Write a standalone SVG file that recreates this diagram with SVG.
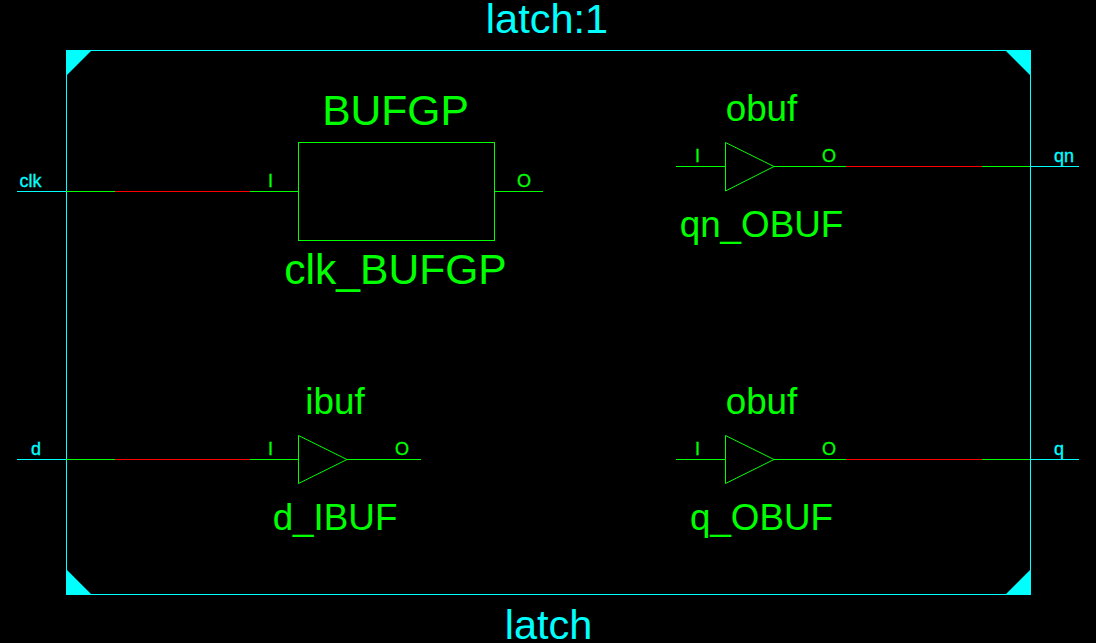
<svg xmlns="http://www.w3.org/2000/svg" width="1096" height="643" viewBox="0 0 1096 643">
<style>
text{font-family:"Liberation Sans",Arial,sans-serif}
.big{font-size:42.6px;fill:#0f0;text-anchor:middle}
.mid{font-size:36.8px;fill:#0f0;text-anchor:middle}
.title{font-size:41.5px;fill:#0ff;text-anchor:middle}
.pin{font-size:18px;fill:#0f0;stroke:#0f0;stroke-width:.3;text-anchor:middle}
.port{font-size:18px;fill:#0ff;stroke:#0ff;stroke-width:.3;text-anchor:middle}
.sym{fill:none;stroke:#0f0;stroke-width:1}
.g{stroke:#0f0;stroke-width:1;fill:none}
.r{stroke:#f00;stroke-width:1;fill:none}
.c{stroke:#0ff;stroke-width:1;fill:none}
</style>
<rect width="1096" height="643" fill="#000"/>
<g id="frame">
<rect x="66.5" y="50.5" width="964" height="544" fill="none" stroke="#0ff"/>
<path d="M66 50H92L66 76ZM1005 50H1031V76ZM66 569V595H92ZM1031 569V595H1005Z" fill="#0ff"/>
<text class="title" x="547" y="33">latch:1</text>
<text class="title" x="548.500" y="639">latch</text>
</g>
<g id="connectors">
<path class="c" d="M17 191.5H66M17 459.5H66M1030 166.5H1079M1030 459.5H1079"/>
<path class="g" d="M66 191.5H115M250 191.5H298M66 459.5H115M250 459.5H298M494 191.5H543M347 459.5H421M676 166.5H725M774 166.5H846M982 166.5H1030M676 459.5H725M774 459.5H846M982 459.5H1030"/>
<path class="r" d="M115 191.5H250M115 459.5H250M846 166.5H982M846 459.5H982"/>
</g>
<g id="port-clk"><text class="port" x="30.500" y="187">clk</text></g>
<g id="port-d"><text class="port" x="36" y="455">d</text></g>
<g id="port-qn"><text class="port" x="1064" y="162">qn</text></g>
<g id="port-q"><text class="port" x="1059" y="455">q</text></g>
<g id="clk_BUFGP">
<rect class="sym" x="298.5" y="142.5" width="196" height="98"/>
<text class="big" x="395.500" y="125">BUFGP</text>
<text class="big" x="395.500" y="284">clk_BUFGP</text>
<text class="pin" x="270.500" y="187">I</text>
<text class="pin" x="524" y="187">O</text>
</g>
<g id="d_IBUF">
<path class="sym" d="M298.5 435.5V483.5L347 459.5Z"/>
<text class="mid" x="335" y="414">ibuf</text>
<text class="mid" x="335" y="530">d_IBUF</text>
<text class="pin" x="270.500" y="455">I</text>
<text class="pin" x="402" y="455">O</text>
</g>
<g id="qn_OBUF">
<path class="sym" d="M725.5 142.5V191L774 166.5Z"/>
<text class="mid" x="761.500" y="121">obuf</text>
<text class="mid" x="761.500" y="237">qn_OBUF</text>
<text class="pin" x="697.500" y="162">I</text>
<text class="pin" x="829" y="162">O</text>
</g>
<g id="q_OBUF">
<path class="sym" d="M725.5 435.5V483.5L774 459.5Z"/>
<text class="mid" x="761.500" y="414">obuf</text>
<text class="mid" x="761.500" y="530">q_OBUF</text>
<text class="pin" x="697.500" y="455">I</text>
<text class="pin" x="829" y="455">O</text>
</g>
</svg>
